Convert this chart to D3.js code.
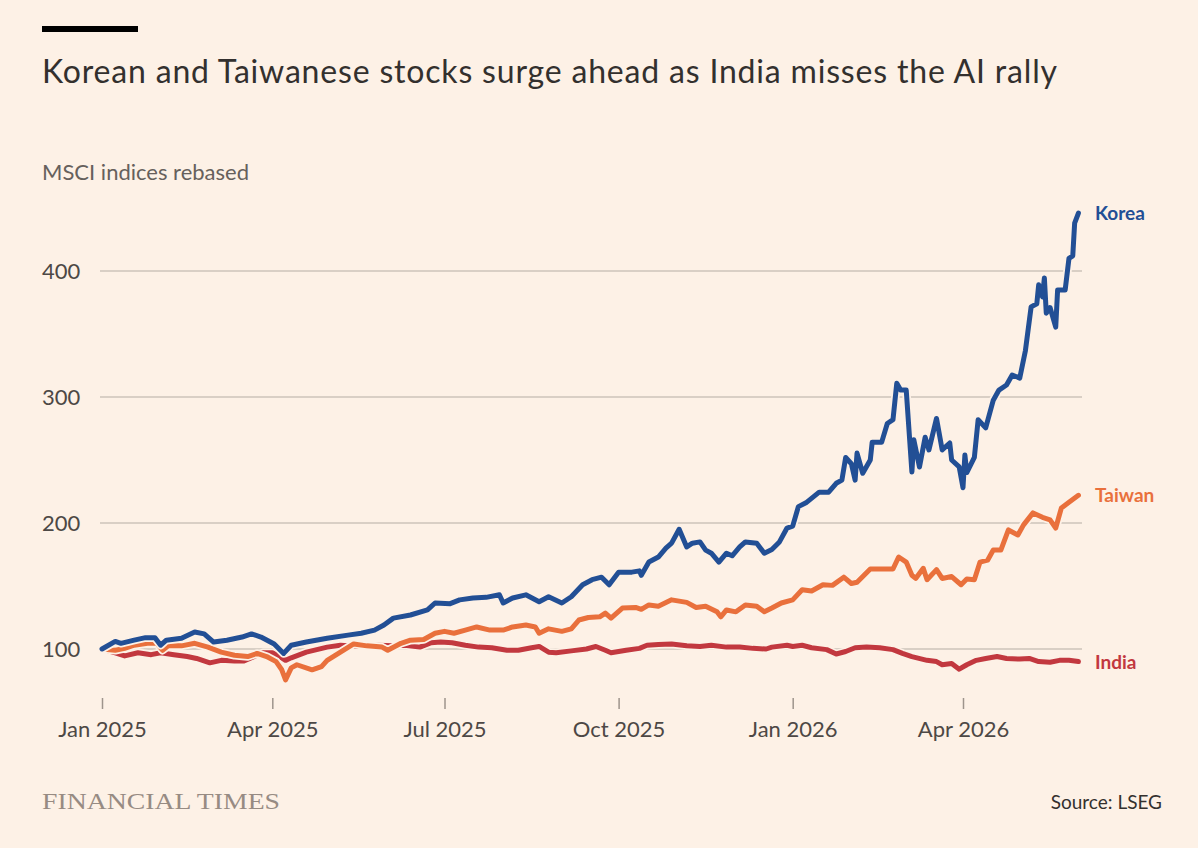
<!DOCTYPE html>
<html>
<head>
<meta charset="utf-8">
<script src="https://cdn.jsdelivr.net/npm/d3@7"></script>
<style>
   body { margin: 0; background: #fdf1e6; }
   svg { display: block; }
   .title { font-family: Lato, sans-serif; font-size: 32px; fill: #33302e; }
   .subTitle { font-family: Lato, sans-serif; font-size: 22px; fill: #66605c; }
   .tickLabel { font-family: Lato, sans-serif; font-size: 22px; fill: #4d4845; }
   .seriesLabel { font-family: Lato, sans-serif; font-size: 19px; font-weight: 700; }
   .source { font-family: Lato, sans-serif; font-size: 19px; fill: #33302e; }
   .brand { font-family: "Liberation Serif", serif; font-size: 24px; fill: #978b83; }
</style>
</head>
<body>
<div id="container"></div>
<script>
const yTicks = [100, 200, 300, 400];
const xTicks = ["2025-01-01", "2025-04-01", "2025-07-01", "2025-10-01", "2026-01-01", "2026-04-01"];

// MSCI indices rebased
const korea = [
   ["2025-01-01", 100], ["2025-01-08", 106], ["2025-01-11", 104.5], ["2025-01-18", 107], ["2025-01-24", 109],
   ["2025-01-29", 109], ["2025-02-01", 103], ["2025-02-04", 107], ["2025-02-12", 108.5], ["2025-02-19", 113.5],
   ["2025-02-24", 112], ["2025-03-01", 105.5], ["2025-03-08", 107], ["2025-03-16", 109.5], ["2025-03-21", 112],
   ["2025-03-26", 109.5], ["2025-04-02", 104], ["2025-04-07", 96.5], ["2025-04-11", 103], ["2025-04-19", 105.5],
   ["2025-04-30", 108.5], ["2025-05-11", 111], ["2025-05-18", 112.5], ["2025-05-25", 115], ["2025-05-30", 119],
   ["2025-06-04", 124.5], ["2025-06-13", 127], ["2025-06-22", 131], ["2025-06-26", 136.5], ["2025-07-04", 136],
   ["2025-07-09", 139], ["2025-07-16", 140.5], ["2025-07-23", 141], ["2025-07-30", 143], ["2025-08-01", 136.5],
   ["2025-08-06", 140.5], ["2025-08-13", 143], ["2025-08-20", 137.5], ["2025-08-25", 141.5], ["2025-09-01", 136.5],
   ["2025-09-06", 141.5], ["2025-09-12", 151], ["2025-09-17", 155], ["2025-09-22", 157], ["2025-09-26", 151],
   ["2025-10-01", 161], ["2025-10-08", 161], ["2025-10-12", 162], ["2025-10-13", 158.5], ["2025-10-17", 169],
   ["2025-10-22", 173], ["2025-10-26", 180], ["2025-10-29", 184], ["2025-11-02", 195], ["2025-11-06", 181],
   ["2025-11-09", 184], ["2025-11-13", 185], ["2025-11-16", 178.5], ["2025-11-19", 176], ["2025-11-23", 169],
   ["2025-11-27", 176], ["2025-11-30", 174], ["2025-12-04", 181], ["2025-12-07", 185], ["2025-12-13", 184],
   ["2025-12-17", 176], ["2025-12-21", 179], ["2025-12-25", 185], ["2025-12-29", 196], ["2026-01-01", 197.5],
   ["2026-01-04", 213], ["2026-01-08", 216], ["2026-01-15", 224.5], ["2026-01-20", 224.5], ["2026-01-24", 231.5],
   ["2026-01-27", 234], ["2026-01-29", 252], ["2026-02-01", 247], ["2026-02-03", 234], ["2026-02-04", 255.5],
   ["2026-02-07", 239.5], ["2026-02-11", 250], ["2026-02-12", 264], ["2026-02-17", 264], ["2026-02-20", 279],
   ["2026-02-23", 282], ["2026-02-25", 311], ["2026-02-27", 305.5], ["2026-03-02", 305.5], ["2026-03-05", 240.5],
   ["2026-03-06", 266], ["2026-03-09", 244.5], ["2026-03-12", 268], ["2026-03-14", 258], ["2026-03-18", 283],
   ["2026-03-21", 258], ["2026-03-25", 263.5], ["2026-03-26", 250], ["2026-03-30", 244.5], ["2026-04-01", 228],
   ["2026-04-02", 254], ["2026-04-03", 240], ["2026-04-07", 252], ["2026-04-09", 282], ["2026-04-13", 275.5],
   ["2026-04-17", 297.5], ["2026-04-20", 305.5], ["2026-04-24", 309.5], ["2026-04-27", 317.5], ["2026-05-01", 315],
   ["2026-05-04", 337], ["2026-05-07", 371.5], ["2026-05-10", 374], ["2026-05-11", 389], ["2026-05-13", 379.5],
   ["2026-05-14", 394.5], ["2026-05-15", 366.5], ["2026-05-17", 371], ["2026-05-20", 355.5], ["2026-05-21", 385],
   ["2026-05-25", 385], ["2026-05-27", 410], ["2026-05-29", 412], ["2026-05-30", 438], ["2026-06-01", 446]
];

const taiwan = [
   ["2025-01-01", 100], ["2025-01-08", 99], ["2025-01-13", 100.5], ["2025-01-18", 103], ["2025-01-25", 104.5],
   ["2025-01-30", 104.5], ["2025-02-02", 99], ["2025-02-05", 102.5], ["2025-02-12", 102.5], ["2025-02-19", 104.5],
   ["2025-02-26", 101.5], ["2025-03-05", 97.5], ["2025-03-12", 95], ["2025-03-19", 94], ["2025-03-24", 96.5],
   ["2025-03-29", 94], ["2025-04-03", 90], ["2025-04-06", 83.5], ["2025-04-08", 75.5], ["2025-04-11", 85],
   ["2025-04-14", 87.5], ["2025-04-22", 83.5], ["2025-04-27", 86], ["2025-04-30", 91], ["2025-05-07", 97.5],
   ["2025-05-14", 104], ["2025-05-21", 102.5], ["2025-05-29", 101.5], ["2025-06-01", 99], ["2025-06-08", 104.5],
   ["2025-06-13", 107], ["2025-06-20", 107.5], ["2025-06-26", 112.5], ["2025-07-01", 114], ["2025-07-06", 112.5],
   ["2025-07-12", 115], ["2025-07-18", 117.5], ["2025-07-25", 115], ["2025-08-01", 115], ["2025-08-06", 117.5],
   ["2025-08-13", 119], ["2025-08-18", 117.5], ["2025-08-20", 112.5], ["2025-08-25", 116], ["2025-09-01", 114],
   ["2025-09-06", 116], ["2025-09-10", 123], ["2025-09-15", 125], ["2025-09-21", 125.5], ["2025-09-24", 128.5],
   ["2025-09-27", 124.5], ["2025-10-03", 132.5], ["2025-10-10", 133], ["2025-10-13", 131.5], ["2025-10-17", 135],
   ["2025-10-22", 134], ["2025-10-29", 139], ["2025-11-06", 137], ["2025-11-11", 133], ["2025-11-16", 134],
   ["2025-11-22", 129.5], ["2025-11-24", 125.5], ["2025-11-27", 131], ["2025-12-02", 129.5], ["2025-12-07", 135],
   ["2025-12-13", 134], ["2025-12-17", 129.5], ["2025-12-21", 132.5], ["2025-12-26", 136.5], ["2026-01-01", 139],
   ["2026-01-06", 147], ["2026-01-11", 146], ["2026-01-17", 151], ["2026-01-22", 150.5], ["2026-01-28", 157],
   ["2026-02-01", 152], ["2026-02-04", 153], ["2026-02-11", 163.5], ["2026-02-16", 163.5], ["2026-02-23", 163.5],
   ["2026-02-26", 173], ["2026-03-02", 169], ["2026-03-05", 158.5], ["2026-03-07", 156], ["2026-03-11", 164],
   ["2026-03-13", 155], ["2026-03-18", 163], ["2026-03-21", 156], ["2026-03-26", 157.5], ["2026-03-31", 151],
   ["2026-04-03", 155.5], ["2026-04-07", 155], ["2026-04-10", 169], ["2026-04-14", 170.5], ["2026-04-17", 178.5],
   ["2026-04-21", 178.5], ["2026-04-25", 194.5], ["2026-04-30", 190.5], ["2026-05-03", 198.5], ["2026-05-08", 208],
   ["2026-05-13", 204.5], ["2026-05-17", 202.5], ["2026-05-20", 196], ["2026-05-23", 212], ["2026-05-27", 216.5],
   ["2026-06-01", 222]
];

const india = [
   ["2025-01-01", 100], ["2025-01-08", 97], ["2025-01-13", 94.5], ["2025-01-20", 97], ["2025-01-27", 95.5],
   ["2025-02-01", 97], ["2025-02-08", 95.5], ["2025-02-15", 94], ["2025-02-20", 92.5], ["2025-02-27", 89],
   ["2025-03-05", 91], ["2025-03-12", 90.5], ["2025-03-17", 90.5], ["2025-03-27", 97], ["2025-04-01", 97],
   ["2025-04-05", 94], ["2025-04-08", 91], ["2025-04-11", 93], ["2025-04-19", 97.5], ["2025-04-30", 101.5],
   ["2025-05-07", 103], ["2025-05-17", 102], ["2025-05-27", 103], ["2025-06-04", 102.5], ["2025-06-10", 103],
   ["2025-06-18", 101.5], ["2025-06-24", 105], ["2025-06-29", 105.5], ["2025-07-05", 105], ["2025-07-12", 103],
   ["2025-07-19", 101.5], ["2025-07-26", 101], ["2025-08-03", 99], ["2025-08-09", 99], ["2025-08-16", 101],
   ["2025-08-20", 102], ["2025-08-25", 97.5], ["2025-08-29", 97], ["2025-09-06", 98.5], ["2025-09-14", 100],
   ["2025-09-19", 102], ["2025-09-24", 99], ["2025-09-27", 97], ["2025-10-05", 99], ["2025-10-12", 100.5],
   ["2025-10-16", 103], ["2025-10-22", 103.5], ["2025-10-29", 104], ["2025-11-06", 102.5], ["2025-11-13", 102],
   ["2025-11-19", 103], ["2025-11-27", 101.5], ["2025-12-04", 101.5], ["2025-12-11", 100.5], ["2025-12-18", 100],
   ["2025-12-21", 101.5], ["2025-12-29", 103], ["2026-01-01", 102], ["2026-01-06", 103], ["2026-01-11", 101],
   ["2026-01-19", 99.5], ["2026-01-24", 96], ["2026-01-29", 98], ["2026-02-03", 101], ["2026-02-09", 101.5],
   ["2026-02-16", 101], ["2026-02-23", 99.5], ["2026-02-28", 96.5], ["2026-03-05", 94], ["2026-03-13", 91],
   ["2026-03-18", 90], ["2026-03-21", 87.5], ["2026-03-26", 88.5], ["2026-03-30", 84], ["2026-04-03", 87.5],
   ["2026-04-08", 91], ["2026-04-13", 92.5], ["2026-04-19", 94], ["2026-04-24", 92.5], ["2026-05-01", 92],
   ["2026-05-06", 92.5], ["2026-05-11", 90], ["2026-05-17", 89.5], ["2026-05-22", 91], ["2026-05-27", 91],
   ["2026-06-01", 90]
];

const seriesNames = ["India", "Taiwan", "Korea"];
const seriesColours = ["#c2383f", "#e9703c", "#224f95"];
const seriesData = [india, taiwan, korea];

const width = 1198;
const height = 848;
const bg = "#fdf1e6";
const parse = d3.timeParse("%Y-%m-%d");

const svg = d3.select("#container").append("svg")
   .attr("width", width)
   .attr("height", height);

svg.append("rect")
   .attr("width", width)
   .attr("height", height)
   .attr("fill", bg);

// header
svg.append("rect")
   .attr("x", 42)
   .attr("y", 26)
   .attr("width", 96)
   .attr("height", 6)
   .attr("fill", "#000");

svg.append("text")
   .attr("class", "title")
   .attr("x", 42)
   .attr("y", 83)
   .attr("textLength", 1015)
   .attr("lengthAdjust", "spacing")
   .text("Korean and Taiwanese stocks surge ahead as India misses the AI rally");

svg.append("text")
   .attr("class", "subTitle")
   .attr("x", 42)
   .attr("y", 180)
   .text("MSCI indices rebased");

const x = d3.scaleTime()
   .domain([parse("2025-01-01"), parse("2026-04-01")])
   .range([102, 963]);

const y = d3.scaleLinear()
   .domain([100, 400])
   .range([649, 271]);

// gridlines + y labels
svg.selectAll("line.grid")
   .data(yTicks)
   .enter()
   .append("line")
   .attr("class", "grid")
   .attr("x1", 100)
   .attr("x2", 1082)
   .attr("y1", d => y(d))
   .attr("y2", d => y(d))
   .attr("stroke", "#cdc3ba")
   .attr("stroke-width", 1.5);

svg.selectAll("text.yLabel")
   .data(yTicks)
   .enter()
   .append("text")
   .attr("class", "tickLabel yLabel")
   .attr("x", 42)
   .attr("y", d => y(d) + 8)
   .text(d => d);

// x axis
const xAxis = d3.axisBottom(x)
   .tickValues(xTicks.map(parse))
   .tickSize(11)
   .tickPadding(12)
   .tickFormat(d3.timeFormat("%b %Y"));

const gx = svg.append("g")
   .attr("transform", "translate(0, 698)")
   .call(xAxis);

gx.select(".domain").remove();
gx.selectAll(".tick line")
   .attr("stroke", "#9e948c")
   .attr("stroke-width", 1.5);
gx.selectAll(".tick text")
   .attr("class", "tickLabel")
   .attr("fill", null)
   .attr("font-family", null)
   .attr("font-size", null);

// lines, each with a paper-coloured halo
const line = d3.line()
   .x(d => x(parse(d[0])))
   .y(d => y(d[1]));

seriesData.forEach((data, i) => {
   svg.append("path")
      .datum(data)
      .attr("fill", "none")
      .attr("stroke", bg)
      .attr("stroke-width", 8.5)
      .attr("stroke-linejoin", "round")
      .attr("stroke-linecap", "round")
      .attr("d", line);

   svg.append("path")
      .datum(data)
      .attr("fill", "none")
      .attr("stroke", seriesColours[i])
      .attr("stroke-width", 5)
      .attr("stroke-linejoin", "round")
      .attr("stroke-linecap", "round")
      .attr("d", line);
});

// end labels
const labelY = { India: 90, Taiwan: 222, Korea: 446 };
svg.selectAll("text.seriesLabel")
   .data(seriesNames)
   .enter()
   .append("text")
   .attr("class", "seriesLabel")
   .attr("x", 1095)
   .attr("y", d => y(labelY[d]) + 7)
   .attr("fill", (d, i) => seriesColours[i])
   .text(d => d);

// footer
svg.append("text")
   .attr("class", "brand")
   .attr("x", 42)
   .attr("y", 809)
   .attr("textLength", 238)
   .attr("lengthAdjust", "spacingAndGlyphs")
   .text("FINANCIAL TIMES");

svg.append("text")
   .attr("class", "source")
   .attr("x", 1162)
   .attr("y", 809)
   .style("text-anchor", "end")
   .text("Source: LSEG");
</script>
</body>
</html>
